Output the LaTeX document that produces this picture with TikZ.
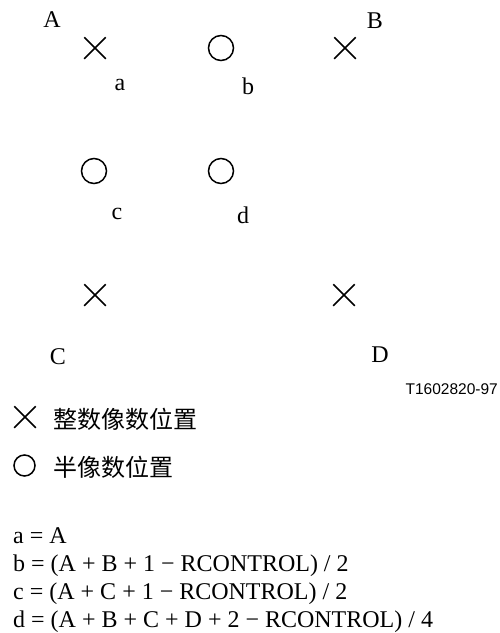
\documentclass[tikz,border=0pt]{standalone}
\usepackage{fontspec}
\setmainfont{Liberation Serif}
\newfontfamily\cjk{Noto Sans CJK SC}
\newfontfamily\arialf{Liberation Sans}
\usetikzlibrary{shapes.misc}
\begin{document}
\begin{tikzpicture}[x=1pt,y=-1pt,
  intpos/.style={draw, cross out, line width=1.5pt, minimum size=20pt, inner sep=0pt},
  halfpos/.style={draw, circle, line width=1.5pt, minimum size=25pt, inner sep=0pt},
  lbl/.style={font=\fontsize{24}{26}\selectfont, inner sep=0pt},
  eq/.style={font=\fontsize{24}{26}\selectfont, inner sep=0pt, anchor=base west},
  cjklbl/.style={font=\cjk\fontsize{24}{26}\selectfont, inner sep=0pt, anchor=west}]
\useasboundingbox (0,0) rectangle (499,633);
% grid points
\node[intpos] (xa) at (95,48) {};
\node[halfpos] (ob) at (221,48) {};
\node[intpos] (xb) at (345,48) {};
\node[halfpos] (oc) at (94,171) {};
\node[halfpos] (od) at (221,171) {};
\node[intpos] (xc) at (95,295) {};
\node[intpos] (xd) at (344,295) {};
% labels
\node[lbl] (lA) at (52,20) {A};
\node[lbl] (lB) at (375,21) {B};
\node[lbl] (la) at (120,85) {a};
\node[lbl] (lb) at (248,86) {b};
\node[lbl] (lc) at (117,214) {c};
\node[lbl] (ld) at (243,215) {d};
\node[lbl] (lC) at (58,357) {C};
\node[lbl] (lD) at (380,355) {D};
\node[font=\arialf\fontsize{15.5}{17}\selectfont, inner sep=0pt, anchor=east] (fig) at (498,389) {T1602820-97};
% legend
\node[intpos] (legx) at (25,417) {};
\node[cjklbl] (legxt) at (53,419) {整数像数位置};
\node[halfpos, minimum size=21pt] (lego) at (24.5,465.5) {};
\node[cjklbl] (legot) at (53,467) {半像数位置};
% equations
\node[eq] (e1) at (13,543) {a = A};
\node[eq] (e2) at (13,571) {b = (A + B + 1 − RCONTROL) / 2};
\node[eq] (e3) at (13,599) {c = (A + C + 1 − RCONTROL) / 2};
\node[eq] (e4) at (13,627) {d = (A + B + C + D + 2 − RCONTROL) / 4};
\end{tikzpicture}
\end{document}
